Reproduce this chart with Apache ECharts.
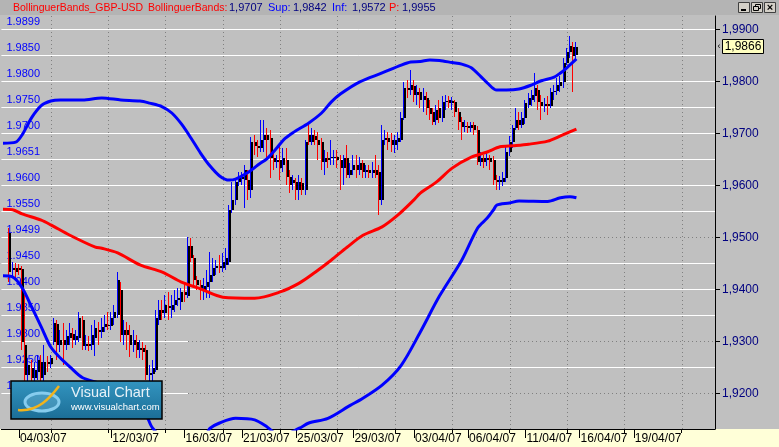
<!DOCTYPE html>
<html><head><meta charset="utf-8">
<script src="https://cdn.jsdelivr.net/npm/echarts@6/dist/echarts.min.js"></script>
<style>html,body{margin:0;padding:0;background:#c0c0c0}#c{width:779px;height:447px}</style>
</head><body><div id="c"></div>
<script>
// ---------- DATA ----------
const categoryCount = 224;      // bar slots on the time axis (data + future)
const startIndex = 2;           // slot of the first candle
const opens = [
1.9508,1.9437,1.9441,1.9441,1.9439,1.9293,1.9235,1.9249,1.9229,1.9241,
1.9260,1.9235,1.9260,1.9256,1.9299,1.9333,1.9293,1.9302,1.9293,1.9306,
1.9314,1.9302,1.9306,1.9341,1.9291,1.9295,1.9293,1.9306,1.9322,1.9318,
1.9327,1.9331,1.9329,1.9345,1.9351,1.9399,1.9312,1.9322,1.9312,1.9293,
1.9299,1.9283,1.9287,1.9283,1.9235,1.9237,1.9245,1.9341,1.9360,1.9354,
1.9368,1.9360,1.9370,1.9379,1.9376,1.9395,1.9387,1.9483,1.9460,1.9418,
1.9408,1.9399,1.9404,1.9414,1.9426,1.9441,1.9445,1.9441,1.9447,1.9452,
1.9552,1.9572,1.9606,1.9612,1.9610,1.9610,1.9591,1.9683,1.9675,1.9672,
1.9687,1.9697,1.9691,1.9652,1.9645,1.9649,1.9639,1.9649,1.9616,1.9604,
1.9606,1.9591,1.9604,1.9591,1.9697,1.9683,1.9695,1.9687,1.9683,1.9645,
1.9652,1.9652,1.9652,1.9654,1.9649,1.9633,1.9652,1.9620,1.9629,1.9639,
1.9629,1.9643,1.9625,1.9629,1.9624,1.9629,1.9625,1.9572,1.9687,1.9691,
1.9687,1.9677,1.9683,1.9687,1.9729,1.9787,1.9783,1.9791,1.9774,1.9779,
1.9764,1.9768,1.9749,1.9741,1.9726,1.9749,1.9729,1.9760,1.9764,1.9758,
1.9760,1.9741,1.9722,1.9712,1.9714,1.9710,1.9716,1.9706,1.9645,1.9652,
1.9649,1.9652,1.9649,1.9610,1.9606,1.9606,1.9614,1.9664,1.9683,1.9710,
1.9726,1.9716,1.9729,1.9754,1.9764,1.9772,1.9783,1.9760,1.9752,1.9756,
1.9752,1.9779,1.9781,1.9791,1.9798,1.9835,1.9856,1.9866,1.9851];
const closes = [
1.9433,1.9441,1.9433,1.9437,1.9299,1.9235,1.9254,1.9229,1.9245,1.9264,
1.9229,1.9260,1.9256,1.9268,1.9335,1.9293,1.9302,1.9293,1.9310,1.9316,
1.9302,1.9310,1.9345,1.9291,1.9295,1.9291,1.9312,1.9326,1.9318,1.9327,
1.9333,1.9329,1.9345,1.9356,1.9418,1.9312,1.9322,1.9312,1.9293,1.9302,
1.9283,1.9287,1.9279,1.9235,1.9239,1.9249,1.9345,1.9360,1.9354,1.9370,
1.9364,1.9370,1.9379,1.9383,1.9395,1.9389,1.9483,1.9460,1.9418,1.9408,
1.9399,1.9406,1.9414,1.9427,1.9441,1.9445,1.9441,1.9452,1.9460,1.9552,
1.9572,1.9606,1.9614,1.9616,1.9629,1.9591,1.9683,1.9675,1.9672,1.9687,
1.9697,1.9687,1.9652,1.9645,1.9649,1.9633,1.9652,1.9616,1.9601,1.9610,
1.9591,1.9606,1.9591,1.9683,1.9683,1.9697,1.9687,1.9677,1.9645,1.9652,
1.9649,1.9654,1.9654,1.9649,1.9633,1.9652,1.9620,1.9629,1.9639,1.9629,
1.9643,1.9625,1.9629,1.9624,1.9629,1.9620,1.9572,1.9687,1.9691,1.9683,
1.9677,1.9687,1.9691,1.9729,1.9787,1.9783,1.9793,1.9774,1.9779,1.9764,
1.9772,1.9749,1.9737,1.9722,1.9745,1.9729,1.9760,1.9762,1.9758,1.9762,
1.9741,1.9722,1.9712,1.9714,1.9710,1.9716,1.9706,1.9645,1.9652,1.9645,
1.9652,1.9645,1.9610,1.9606,1.9610,1.9614,1.9664,1.9683,1.9710,1.9726,
1.9716,1.9729,1.9758,1.9768,1.9774,1.9787,1.9760,1.9752,1.9756,1.9752,
1.9779,1.9781,1.9793,1.9798,1.9835,1.9856,1.9868,1.9849,1.9866];
const lows = [
1.9414,1.9422,1.9418,1.9427,1.9283,1.9216,1.9206,1.9203,1.9197,1.9226,
1.9216,1.9222,1.9241,1.9249,1.9293,1.9264,1.9279,1.9254,1.9283,1.9293,
1.9287,1.9293,1.9299,1.9283,1.9283,1.9281,1.9283,1.9272,1.9293,1.9306,
1.9318,1.9322,1.9322,1.9331,1.9345,1.9299,1.9293,1.9283,1.9270,1.9279,
1.9268,1.9268,1.9264,1.9226,1.9222,1.9216,1.9241,1.9331,1.9341,1.9345,
1.9341,1.9345,1.9356,1.9368,1.9360,1.9376,1.9383,1.9452,1.9408,1.9399,
1.9379,1.9379,1.9383,1.9383,1.9414,1.9427,1.9431,1.9433,1.9437,1.9447,
1.9547,1.9562,1.9599,1.9601,1.9556,1.9572,1.9576,1.9658,1.9654,1.9664,
1.9664,1.9649,1.9614,1.9629,1.9633,1.9610,1.9625,1.9601,1.9585,1.9591,
1.9572,1.9572,1.9581,1.9581,1.9677,1.9677,1.9677,1.9649,1.9629,1.9620,
1.9633,1.9639,1.9639,1.9633,1.9591,1.9601,1.9614,1.9614,1.9620,1.9614,
1.9620,1.9614,1.9614,1.9614,1.9614,1.9614,1.9543,1.9562,1.9677,1.9668,
1.9664,1.9662,1.9668,1.9683,1.9726,1.9768,1.9774,1.9760,1.9754,1.9749,
1.9741,1.9735,1.9726,1.9716,1.9716,1.9720,1.9722,1.9745,1.9749,1.9745,
1.9731,1.9706,1.9687,1.9702,1.9700,1.9702,1.9697,1.9639,1.9637,1.9633,
1.9637,1.9629,1.9601,1.9591,1.9591,1.9599,1.9606,1.9656,1.9672,1.9706,
1.9706,1.9710,1.9718,1.9749,1.9752,1.9760,1.9745,1.9726,1.9741,1.9735,
1.9749,1.9764,1.9774,1.9779,1.9787,1.9831,1.9845,1.9779,1.9841];
const highs = [
1.9518,1.9452,1.9451,1.9449,1.9445,1.9389,1.9268,1.9264,1.9260,1.9274,
1.9274,1.9293,1.9272,1.9274,1.9345,1.9341,1.9322,1.9335,1.9322,1.9335,
1.9326,1.9322,1.9356,1.9349,1.9312,1.9310,1.9331,1.9341,1.9337,1.9345,
1.9351,1.9356,1.9356,1.9370,1.9433,1.9414,1.9341,1.9337,1.9331,1.9322,
1.9312,1.9302,1.9299,1.9293,1.9254,1.9264,1.9360,1.9379,1.9379,1.9389,
1.9395,1.9389,1.9399,1.9402,1.9402,1.9412,1.9501,1.9499,1.9466,1.9426,
1.9418,1.9422,1.9437,1.9472,1.9460,1.9456,1.9466,1.9470,1.9479,1.9562,
1.9606,1.9614,1.9625,1.9625,1.9639,1.9629,1.9693,1.9697,1.9687,1.9726,
1.9726,1.9710,1.9706,1.9668,1.9658,1.9677,1.9672,1.9672,1.9629,1.9620,
1.9614,1.9620,1.9614,1.9687,1.9720,1.9710,1.9706,1.9702,1.9691,1.9668,
1.9664,1.9687,1.9668,1.9668,1.9658,1.9658,1.9677,1.9643,1.9658,1.9658,
1.9654,1.9649,1.9639,1.9639,1.9645,1.9658,1.9639,1.9716,1.9706,1.9702,
1.9700,1.9697,1.9702,1.9741,1.9798,1.9802,1.9822,1.9802,1.9793,1.9787,
1.9787,1.9779,1.9764,1.9749,1.9754,1.9764,1.9772,1.9774,1.9772,1.9770,
1.9764,1.9749,1.9731,1.9726,1.9722,1.9722,1.9722,1.9714,1.9664,1.9658,
1.9664,1.9658,1.9656,1.9620,1.9618,1.9625,1.9677,1.9695,1.9716,1.9749,
1.9741,1.9741,1.9764,1.9777,1.9783,1.9816,1.9793,1.9774,1.9768,1.9772,
1.9787,1.9793,1.9806,1.9810,1.9845,1.9864,1.9887,1.9876,1.9876];

// Bollinger bands: [bar slot, value]
const upperBand = [[0,1.9681],[4,1.9683],[6,1.9697],[9,1.9730],[12,1.9753],[15,1.9762],[18,1.9764],[25,1.9764],[31,1.9768],[37,1.9764],[43,1.9762],[46,1.9758],[50,1.9751],[53,1.9739],[56,1.9718],[59,1.9691],[62,1.9662],[65,1.9637],[68,1.9618],[71,1.9610],[73,1.9612],[77,1.9625],[80,1.9639],[83,1.9652],[86,1.9672],[88,1.9687],[91,1.9701],[96,1.9720],[100,1.9739],[103,1.9760],[106,1.9776],[112,1.9799],[119,1.9816],[125,1.9831],[128,1.9837],[131,1.9838],[134,1.9841],[137,1.9840],[141,1.9836],[144,1.9833],[147,1.9826],[150,1.9809],[152,1.9797],[155,1.9783],[158,1.9783],[162,1.9785],[166,1.9793],[169,1.9801],[173,1.9808],[175,1.9816],[177,1.9826],[180,1.9843]];
const middleBand = [[0,1.9554],[3,1.9553],[6,1.9545],[12,1.9533],[15,1.9524],[21,1.9504],[29,1.9481],[31,1.9479],[36,1.9470],[43,1.9447],[50,1.9433],[56,1.9414],[62,1.9401],[69,1.9385],[79,1.9383],[87,1.9395],[93,1.9412],[98,1.9433],[103,1.9456],[108,1.9481],[113,1.9504],[119,1.9520],[124,1.9543],[129,1.9572],[131,1.9585],[136,1.9606],[141,1.9633],[147,1.9654],[152,1.9664],[156,1.9674],[160,1.9676],[165,1.9679],[171,1.9685],[175,1.9695],[180,1.9708]];
const lowerBand = [[0,1.9426],[3,1.9424],[6,1.9403],[9,1.9366],[12,1.9328],[15,1.9289],[18,1.9268],[21,1.9251],[25,1.9230],[31,1.9218],[37,1.9199],[42,1.9183],[45,1.9158],[47,1.9133],[53,1.9101],[59,1.9101],[64,1.9124],[65,1.9133],[68,1.9143],[73,1.9152],[79,1.9149],[83,1.9135],[87,1.9118],[93,1.9133],[96,1.9143],[102,1.9152],[109,1.9177],[112,1.9187],[119,1.9216],[125,1.9254],[131,1.9318],[137,1.9387],[144,1.9456],[149,1.9518],[152,1.9537],[154,1.9553],[155,1.9562],[159,1.9566],[162,1.9570],[171,1.9569],[175,1.9576],[178,1.9578],[180,1.9576]];

const dateLabels = ['04/03/07','12/03/07','16/03/07','21/03/07','25/03/07','29/03/07','03/04/07','06/04/07','11/04/07','16/04/07','19/04/07'];
const dateLabelIndex = [5,34,57,75,92,110,129,146,164,181,198];
const gridIndex = [15,33,51,69,87,105,123,141,159,177,195,213];
const rightTicks = [1.92,1.93,1.94,1.95,1.96,1.97,1.98,1.99];
const leftTickValues = [1.99,1.985,1.98,1.975,1.97,1.965,1.96,1.955,1.95,1.945,1.94,1.935,1.93,1.925,1.92];
const leftTickLabels = ['1.9899','1.9850','1.9800','1.9750','1.9700','1.9651','1.9600','1.9550','1.9499','1.9450','1.9400','1.9350','1.9300','1.9250','1.9200'];
const dottedLevels = [1.95,1.93,1.92];
const titleParts = [
  ['BollinguerBands_GBP-USD','#FF0000'],['BollinguerBands:','#FF0000'],['1,9707','#000080'],
  ['Sup:','#0000FF'],['1,9842','#000080'],['Inf:','#0000FF'],['1,9572','#000080'],
  ['P:','#FF0000'],['1,9955','#000080']];
const yMin = 1.91315, yMax = 1.99255;

// ---------- CHART ----------
const FONT = 'Liberation Sans, Arial, sans-serif';
const WHITE_END_SLOT = 58;   // white part of the dotted levels ends here (style)
const chart = echarts.init(document.getElementById('c'));
const categories = new Array(categoryCount).fill('');
dateLabelIndex.forEach((ix, k) => { categories[ix] = dateLabels[k]; });
const candleData = opens.map((o, k) => [startIndex + k, o, closes[k], lows[k], highs[k]]);
const hGridData = leftTickValues.map(v => [0, v, dottedLevels.some(d => Math.abs(d - v) < 1e-7) ? 1 : 0]);
const vGridData = gridIndex.map(i => [i, yMin]);

function renderCandle(params, api) {
  const i = api.value(0), o = api.value(1), c = api.value(2), l = api.value(3), h = api.value(4);
  const po = api.coord([i, o]);
  const x = Math.round(po[0]);
  const yo = po[1], yc = api.coord([i, c])[1], yl = api.coord([i, l])[1], yh = api.coord([i, h])[1];
  const top = Math.round(Math.min(yo, yc)), bot = Math.round(Math.max(yo, yc));
  const wt = Math.round(yh), wb = Math.round(yl);
  const col = c >= o ? '#0000FF' : '#FF0000';
  return {type: 'group', children: [
    {type: 'rect', shape: {x: x - 1, y: top, width: 3, height: Math.max(1, bot - top)}, style: {fill: '#000'}},
    {type: 'rect', shape: {x: x - 1, y: wt, width: 1, height: Math.max(1, wb - wt)}, style: {fill: col}}
  ]};
}
function renderHGrid(params, api) {
  const cs = params.coordSys;
  const y = Math.round(api.coord([0, api.value(1)])[1]) + 0.5;
  const x0 = cs.x, x1 = cs.x + cs.width;
  if (api.value(2) === 1) {
    const xs = Math.round(api.coord([WHITE_END_SLOT, api.value(1)])[0]);
    return {type: 'group', children: [
      {type: 'line', shape: {x1: x0, y1: y, x2: xs, y2: y}, style: {stroke: '#FFFFFF', lineWidth: 1}},
      {type: 'line', shape: {x1: xs, y1: y, x2: x1, y2: y}, style: {stroke: '#808080', lineWidth: 1, lineDash: [1, 3]}}
    ]};
  }
  return {type: 'line', shape: {x1: x0, y1: y, x2: x1, y2: y}, style: {stroke: '#FFFFFF', lineWidth: 1}};
}
function renderVGrid(params, api) {
  const cs = params.coordSys;
  const x = Math.round(api.coord([api.value(0), api.value(1)])[0]) + 0.5;
  return {type: 'line', shape: {x1: x, y1: cs.y, x2: x, y2: cs.y + cs.height}, style: {stroke: '#808080', lineWidth: 1, lineDash: [1, 3]}};
}

const bandLine = (data, color) => ({
  type: 'line', data: data, symbol: 'none', smooth: 0.3, z: 5, clip: true, silent: true,
  lineStyle: {color: color, width: 3}
});

chart.setOption({
  animation: false,
  backgroundColor: '#C0C0C0',
  grid: {left: 0, right: 64, top: 16, bottom: 18, containLabel: false},
  xAxis: [{
    type: 'category', data: categories, boundaryGap: true,
    axisLine: {show: true, lineStyle: {color: '#000', width: 1}},
    axisTick: {show: true, alignWithLabel: true, length: 9, interval: (i, v) => v !== '', lineStyle: {color: '#000'}},
    axisLabel: {interval: 0, align: 'left', color: '#000', fontSize: 12, fontFamily: FONT, margin: 4, padding: [0, 0, 0, 1]},
    splitLine: {show: false}
  }, {
    type: 'category', data: categories.map(() => ''), position: 'bottom', boundaryGap: true,
    axisLine: {show: false}, axisLabel: {show: false},
    axisTick: {show: true, alignWithLabel: true, length: 4, interval: (i) => gridIndex.indexOf(i) >= 0, lineStyle: {color: '#000'}},
    splitLine: {show: false}
  }],
  yAxis: [{
    type: 'value', position: 'right', min: yMin, max: yMax, scale: true,
    axisLine: {show: true, lineStyle: {color: '#000', width: 1}},
    axisTick: {show: true, length: 5, customValues: rightTicks, lineStyle: {color: '#000'}},
    axisLabel: {customValues: rightTicks, color: '#000080', fontSize: 12, fontFamily: FONT, margin: 7,
      formatter: v => v.toFixed(4).replace('.', ',')},
    splitLine: {show: false}
  }, {
    type: 'value', position: 'left', min: yMin, max: yMax, scale: true,
    axisLine: {show: false}, axisTick: {show: false}, splitLine: {show: false},
    axisLabel: {inside: true, customValues: leftTickValues, color: '#0000FF', fontSize: 11, fontFamily: FONT,
      margin: 5, verticalAlign: 'bottom', padding: [0, 0, 2, 0],
      formatter: v => { const k = leftTickValues.findIndex(t => Math.abs(t - v) < 1e-7); return k >= 0 ? leftTickLabels[k] : ''; }}
  }],
  series: [{
    type: 'custom', renderItem: renderHGrid, data: hGridData, z: 1, silent: true, clip: false,
    encode: {x: 0, y: 1}
  }, {
    type: 'custom', renderItem: renderVGrid, data: vGridData, z: 1, silent: true, clip: false,
    encode: {x: 0, y: 1}
  }, {
    type: 'custom', renderItem: renderCandle, data: candleData, z: 3, clip: true, silent: true,
    encode: {x: 0, y: [1, 2, 3, 4]}
  },
    bandLine(middleBand, '#FF0000'),
    bandLine(upperBand, '#0000FF'),
    bandLine(lowerBand, '#0000FF')
  ]
});

// ---------- DECORATION ----------
const titleX = [13, 148, 229, 268, 293, 332, 352, 389, 402];
const graphics = [];
const Z = 100;
graphics.push({type: 'rect', z: -10, shape: {x: 0, y: 0, width: 779, height: 15}, style: {fill: '#B4B4B4'}});
graphics.push({type: 'rect', z: -10, shape: {x: 0, y: 429, width: 779, height: 18}, style: {fill: '#FFFFD8'}});
titleParts.forEach((p, k) => graphics.push({type: 'text', z: Z, style: {x: titleX[k], y: 8, text: p[0], fill: p[1],
  font: (k < 2 ? '10.5px ' : '11px ') + FONT, verticalAlign: 'middle'}}));
// window buttons
[738, 751, 764].forEach((bx) => {
  graphics.push({type: 'rect', z: Z, shape: {x: bx + 0.5, y: 2.5, width: 11, height: 10}, style: {fill: '#D4D0C8', stroke: '#404040', lineWidth: 1}});
});
graphics.push({type: 'rect', z: Z + 1, shape: {x: 741, y: 9, width: 5, height: 2}, style: {fill: '#000'}});
graphics.push({type: 'rect', z: Z + 1, shape: {x: 755.5, y: 4.5, width: 5, height: 4}, style: {fill: 'none', stroke: '#000', lineWidth: 1}});
graphics.push({type: 'rect', z: Z + 1, shape: {x: 753.5, y: 6.5, width: 5, height: 4}, style: {fill: '#D4D0C8', stroke: '#000', lineWidth: 1}});
graphics.push({type: 'text', z: Z + 1, style: {x: 770, y: 8, text: '×', fill: '#000', font: 'bold 11px ' + FONT, align: 'center', verticalAlign: 'middle'}});
// logo
graphics.push({type: 'rect', z: Z, shape: {x: 11, y: 381, width: 151, height: 38},
  style: {fill: new echarts.graphic.LinearGradient(0, 0, 0, 1, [{offset: 0, color: '#3395C0'}, {offset: 1, color: '#1B6D96'}]), stroke: '#000', lineWidth: 1.5}});
graphics.push({type: 'ellipse', z: Z + 1, shape: {cx: 42, cy: 402, rx: 17, ry: 9}, style: {fill: 'rgba(160,215,245,0.25)', stroke: '#86CCEE', lineWidth: 3}});
graphics.push({type: 'bezierCurve', z: Z + 2, shape: {x1: 18, y1: 410, cpx1: 38, cpy1: 412, cpx2: 50, cpy2: 398, x2: 59, y2: 386}, style: {stroke: '#F2B31B', lineWidth: 2.5, fill: null}});
graphics.push({type: 'text', z: Z + 1, style: {x: 71, y: 393, text: 'Visual Chart', fill: '#E8F2F8', font: '14.5px ' + FONT, verticalAlign: 'middle'}});
graphics.push({type: 'text', z: Z + 1, style: {x: 71, y: 407, text: 'www.visualchart.com', fill: '#FFFFFF', font: '9.5px ' + FONT, verticalAlign: 'middle'}});
// last price marker
const lastClose = closes[closes.length - 1];
const yLast = Math.round(chart.convertToPixel({yAxisIndex: 0}, lastClose));
graphics.push({type: 'rect', z: Z, shape: {x: 722.5, y: yLast - 7.5, width: 41, height: 14}, style: {fill: '#FFFFC0', stroke: '#000', lineWidth: 1}});
graphics.push({type: 'text', z: Z + 1, style: {x: 743, y: yLast, text: lastClose.toFixed(4).replace('.', ','), fill: '#000', font: '12px ' + FONT, align: 'center', verticalAlign: 'middle'}});
graphics.push({type: 'text', z: Z + 1, style: {x: 719, y: yLast, text: '‹', fill: '#000', font: '9px ' + FONT, align: 'center', verticalAlign: 'middle'}});
chart.setOption({graphic: graphics});
</script></body></html>
